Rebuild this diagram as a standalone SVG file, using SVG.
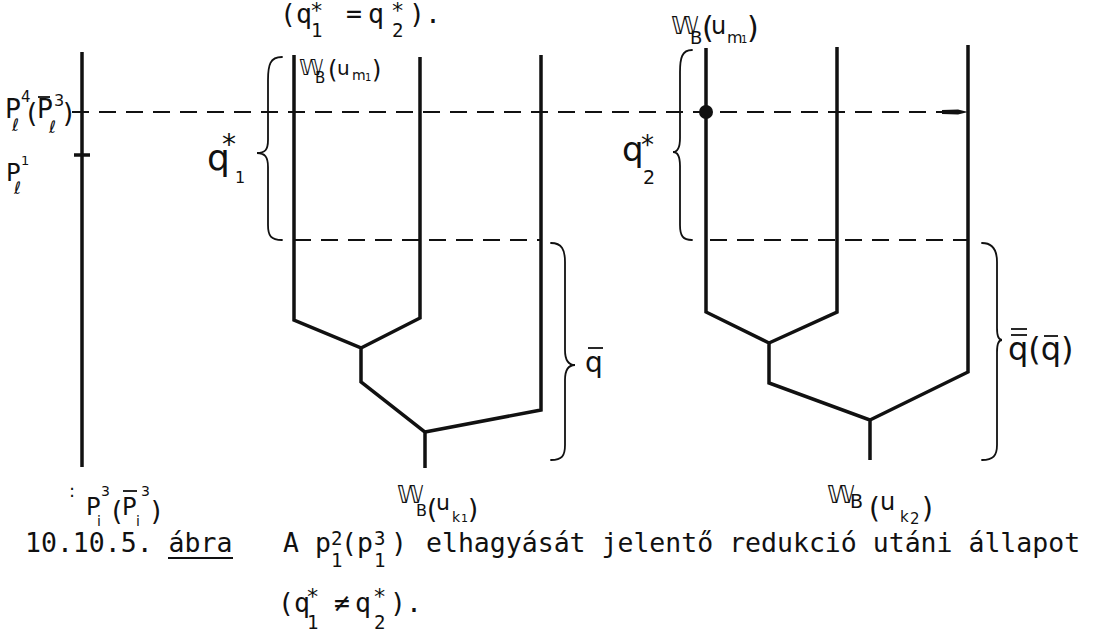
<svg xmlns="http://www.w3.org/2000/svg" width="1111" height="633" viewBox="0 0 1111 633">
<style>
.bg{fill:#ffffff}
.life{fill:none;stroke:#111;stroke-width:3.5;stroke-linejoin:miter;stroke-linecap:butt}
.dash{fill:none;stroke:#111;stroke-width:2;stroke-dasharray:17 10}
.brace{fill:none;stroke:#111;stroke-width:1.8;stroke-linecap:round}
.bar{stroke:#111;stroke-width:1.8}
.hw{font-family:"DejaVu Sans","Noto Sans",sans-serif;fill:#111}
.tw{font-family:"DejaVu Sans Mono","Liberation Mono",monospace;font-size:26.5px;fill:#111}
.tws{font-family:"DejaVu Sans Mono","Liberation Mono",monospace;font-size:19px;fill:#111}
.star{font-family:"DejaVu Sans Mono","Liberation Mono",monospace;font-size:22px;fill:#111}
</style>
<rect class="bg" x="0" y="0" width="1111" height="633"/>

<!-- top caption remainder -->
<g id="caption-top">
<text class="tw" x="280" y="23">(q</text>
<text class="tws" x="311" y="37">1</text>
<text class="star" x="310" y="18">*</text>
<text class="tw" x="346" y="23">=</text>
<text class="tw" x="368" y="23">q</text>
<text class="tws" x="392" y="37">2</text>
<text class="star" x="391" y="18">*</text>
<text class="tw" x="409" y="23">).</text>
</g>

<!-- left lifeline -->
<g id="lifeline-left">
<line class="life" x1="82" y1="52" x2="82" y2="467" stroke-width="3"/>
<line class="life" x1="74" y1="155" x2="90" y2="155" stroke-width="3"/>
<text class="hw" x="5" y="118" font-size="26">P</text>
<text class="hw" x="21" y="102" font-size="15">4</text>
<text class="hw" x="12" y="131" font-size="17">ℓ</text>
<text class="hw" x="27" y="122" font-size="26">(</text>
<text class="hw" x="37" y="118" font-size="26">P</text>
<line class="bar" x1="38" y1="97" x2="50" y2="97"/>
<text class="hw" x="54" y="106" font-size="16">3</text>
<text class="hw" x="49" y="133" font-size="17">ℓ</text>
<text class="hw" x="63" y="122" font-size="26">)</text>
<text class="hw" x="6" y="181" font-size="24">P</text>
<text class="hw" x="21" y="165" font-size="13">1</text>
<text class="hw" x="14" y="194" font-size="17">ℓ</text>
<text class="hw" x="69" y="497" font-size="18">:</text>
<text class="hw" x="86" y="515" font-size="24">P</text>
<text class="hw" x="101" y="496" font-size="14">3</text>
<text class="hw" x="97" y="526" font-size="14">i</text>
<text class="hw" x="112" y="520" font-size="26">(</text>
<text class="hw" x="122" y="515" font-size="24">P</text>
<line class="bar" x1="123" y1="491" x2="137" y2="491"/>
<text class="hw" x="141" y="496" font-size="14">3</text>
<text class="hw" x="136" y="526" font-size="14">i</text>
<text class="hw" x="151" y="520" font-size="26">)</text>
</g>

<!-- middle tree -->
<g id="tree-1">
<path class="life" d="M294,55 L294,320 L361,348 L361,382 L425,432 L425,468"/>
<path class="life" d="M420,57 L420,318 L361,348"/>
<path class="life" d="M541,55 L541,410 L425,432"/>
<text class="hw" x="299" y="75" font-size="22">𝕎</text>
<text class="hw" x="315" y="83" font-size="15">B</text>
<text class="hw" x="328" y="78" font-size="24">(</text>
<text class="hw" x="337" y="75" font-size="20">u</text>
<text class="hw" x="352" y="80" font-size="14">m</text>
<text class="hw" x="365" y="81" font-size="10">1</text>
<text class="hw" x="372" y="78" font-size="24">)</text>
<text class="hw" x="397" y="503" font-size="24">𝕎</text>
<text class="hw" x="416" y="516" font-size="16">B</text>
<text class="hw" x="427" y="518" font-size="26">(</text>
<text class="hw" x="436" y="510" font-size="22">u</text>
<text class="hw" x="452" y="522" font-size="14">k</text>
<text class="hw" x="461" y="522" font-size="11">1</text>
<text class="hw" x="468" y="518" font-size="26">)</text>
</g>

<!-- right tree -->
<g id="tree-2">
<path class="life" d="M706,48 L706,312 L769,343 L769,383 L870,420 L870,460"/>
<path class="life" d="M837,47 L837,312 L769,343"/>
<path class="life" d="M968,45 L968,372 L870,420"/>
<circle cx="706" cy="112" r="7" fill="#111"/>
<text class="hw" x="671" y="34" font-size="25">𝕎</text>
<text class="hw" x="690" y="44" font-size="18">B</text>
<text class="hw" x="702" y="38" font-size="30">(</text>
<text class="hw" x="711" y="34" font-size="24">u</text>
<text class="hw" x="727" y="43" font-size="16">m</text>
<text class="hw" x="741" y="43" font-size="10">1</text>
<text class="hw" x="747" y="38" font-size="30">)</text>
<text class="hw" x="827" y="503" font-size="25">𝕎</text>
<text class="hw" x="850" y="508" font-size="19">B</text>
<text class="hw" x="869" y="518" font-size="28">(</text>
<text class="hw" x="880" y="510" font-size="24">u</text>
<text class="hw" x="900" y="522" font-size="15">k</text>
<text class="hw" x="910" y="524" font-size="15">2</text>
<text class="hw" x="922" y="518" font-size="28">)</text>
</g>

<!-- braces and their labels -->
<g id="brace-q1star">
<path class="brace" d="M282,57 C270,57 268,65 268,80 L268,140 C268,150 265,153 257,153 C265,153 268,157 268,167 L268,225 C268,236 271,240 282,240"/>
<text class="hw" x="207" y="170" font-size="36">q</text>
<text class="hw" x="222" y="154" font-size="28">*</text>
<text class="hw" x="235" y="183" font-size="16">1</text>
</g>
<g id="brace-q2star">
<path class="brace" d="M692,50 C682,50 680,58 680,72 L680,138 C680,148 678,152 673,152 C678,152 680,156 680,166 L680,225 C680,236 683,240 692,240"/>
<text class="hw" x="622" y="161" font-size="34">q</text>
<text class="hw" x="641" y="154" font-size="26">*</text>
<text class="hw" x="643" y="184" font-size="19">2</text>
</g>
<g id="brace-qbar">
<path class="brace" d="M551,243 C562,243 565,250 565,262 L565,350 C565,360 568,365 575,365 C568,365 565,370 565,380 L565,445 C565,456 562,460 551,460"/>
<text class="hw" x="585" y="372" font-size="28">q</text>
<line class="bar" x1="588" y1="348" x2="603" y2="348"/>
</g>
<g id="brace-qdbar">
<path class="brace" d="M982,243 C993,243 997,250 997,262 L997,328 C997,336 999,340 1002,340 C999,340 997,344 997,352 L997,445 C997,456 993,460 982,460"/>
<text class="hw" x="1008" y="360" font-size="32">q(q)</text>
<line class="bar" x1="1011" y1="329" x2="1027" y2="329"/>
<line class="bar" x1="1011" y1="335" x2="1027" y2="335"/>
<line class="bar" x1="1044" y1="336" x2="1058" y2="336"/>
</g>

<!-- connectors -->
<g id="connectors">
<line class="dash" x1="72" y1="112" x2="942" y2="112"/>
<polygon points="942,110 958,109.5 968,112 958,114.5 942,114" fill="#111"/>
<line class="dash" x1="294" y1="240" x2="541" y2="240"/>
<line class="dash" x1="710" y1="240" x2="968" y2="240"/>
</g>

<!-- bottom caption -->
<g id="caption">
<text class="tw" x="25" y="552">10.10.5. ábra</text>
<line x1="168" y1="558" x2="233" y2="558" stroke="#111" stroke-width="2"/>
<text class="tw" x="283" y="552">A p</text>
<text class="tws" x="331" y="567">1</text>
<text class="tws" x="331" y="545">2</text>
<text class="tw" x="341" y="552">(p</text>
<text class="tws" x="374" y="567">1</text>
<text class="tws" x="374" y="545">3</text>
<text class="tw" x="391" y="552">)</text>
<text class="tw" x="426" y="552">elhagyását jelentő redukció utáni állapot</text>
<text class="tw" x="278" y="612">(q</text>
<text class="star" x="306" y="604">*</text>
<text class="tws" x="307" y="629">1</text>
<text class="tw" x="334" y="612">≠</text>
<text class="tw" x="355" y="612">q</text>
<text class="star" x="373" y="604">*</text>
<text class="tws" x="374" y="629">2</text>
<text class="tw" x="390" y="612">).</text>
</g>
</svg>
